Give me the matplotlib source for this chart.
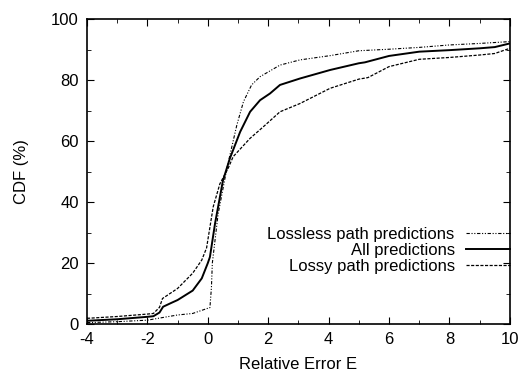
import numpy as np
import matplotlib.pyplot as plt
from matplotlib.ticker import MultipleLocator

plt.rcParams['font.family'] = ['Liberation Sans', 'DejaVu Sans']
plt.rcParams['axes.unicode_minus'] = False

# CDF curves (relative error E, CDF %)
all_x = [-4, -3, -2, -1.8, -1.6, -1.48, -1.2, -1, -0.5, -0.2, 0, 0.07, 0.24, 0.5, 0.73,
         1.07, 1.4, 1.73, 2.06, 2.39, 3.05, 4.05, 5, 5.2, 6, 7, 8, 9, 9.5, 10]
all_y = [1.1, 1.6, 2.4, 2.6, 3.8, 5.7, 7, 7.9, 11, 15, 20, 22, 33, 47, 54.3,
         63, 69.6, 73.4, 75.6, 78.4, 80.5, 83.3, 85.5, 85.8, 87.9, 89.3, 89.8, 90.4, 90.8, 92]

lossless_x = [-4, -3, -2, -1, -0.5, 0, 0.07, 0.12, 0.15, 0.34, 0.63,
              0.96, 1.18, 1.45, 1.73, 2.39, 3.05, 4.05, 5, 6, 7, 8, 9, 10]
lossless_y = [0.5, 0.8, 1.3, 3, 3.5, 5.2, 5.4, 12, 20, 36, 51,
              65.2, 72.9, 78.4, 81.1, 84.9, 86.6, 88, 89.6, 90.1, 90.7, 91.5, 92, 92.6]

lossy_x = [-4, -3, -2, -1.8, -1.6, -1.5, -1, -0.5, -0.2, -0.04, 0, 0.18, 0.4, 0.67,
           0.84, 1.4, 1.84, 2.39, 3.05, 4.05, 5, 5.3, 6, 7, 8, 9, 9.5, 10]
lossy_y = [1.9, 2.5, 3.3, 3.5, 5.5, 8.4, 11.7, 16.7, 21, 25, 27.5, 38.5, 46, 51,
           54.9, 60.9, 64.7, 69.6, 72.3, 77.3, 80.3, 80.8, 84.4, 86.8, 87.4, 88.2, 88.7, 90.4]

fig = plt.figure(figsize=(5.24, 3.73), dpi=100)
ax = fig.add_axes([0.166, 0.131, 0.807, 0.818])

ax.plot(lossless_x, lossless_y, color='k', lw=0.8, dashes=(3, 1.5, 1, 1.5, 1, 1.5),
        label='Lossless path predictions')
ax.plot(all_x, all_y, color='k', lw=1.4, label='All predictions')
ax.plot(lossy_x, lossy_y, color='k', lw=0.9, dashes=(2.5, 1.2),
        label='Lossy path predictions')

ax.set_xlim(-4, 10)
ax.set_ylim(0, 100)
ax.xaxis.set_major_locator(MultipleLocator(2))
ax.xaxis.set_minor_locator(MultipleLocator(1))
ax.yaxis.set_major_locator(MultipleLocator(20))
ax.yaxis.set_minor_locator(MultipleLocator(10))
ax.tick_params(which='both', direction='in', top=True, right=True, labelsize=12)
ax.tick_params(which='major', length=5)
ax.tick_params(which='minor', length=3)
ax.tick_params(axis='y', pad=6)
ax.tick_params(axis='x', pad=6)
for s in ax.spines.values():
    s.set_linewidth(1.2)

ax.set_xlabel('Relative Error E', fontsize=12, labelpad=7)
ax.set_ylabel('CDF (%)', fontsize=12, labelpad=16)

ax.legend(loc='lower right', bbox_to_anchor=(1.0, 0.165), frameon=False, markerfirst=False,
          fontsize=12, handlelength=2.65, labelspacing=0.05, handletextpad=0.66,
          borderaxespad=0, borderpad=0)

plt.savefig('out.png', dpi=100)
